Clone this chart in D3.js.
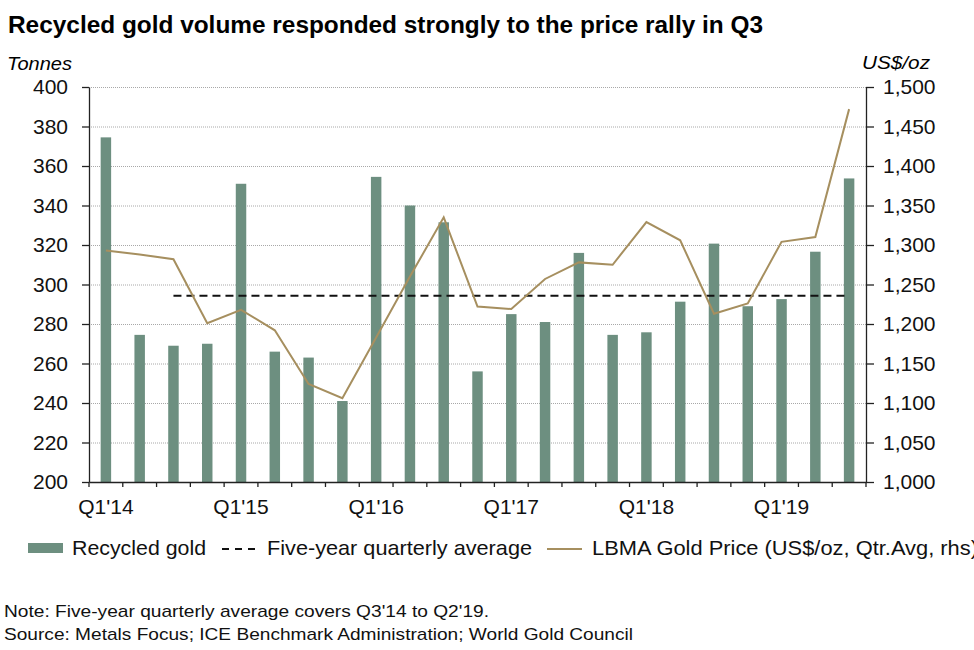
<!DOCTYPE html>
<html>
<head>
<meta charset="utf-8">
<script src="https://cdn.jsdelivr.net/npm/d3@7"></script>
<style>
  html, body { margin: 0; padding: 0; background: #fff; }
  svg { display: block; font-family: "Liberation Sans", Arial, sans-serif; }
</style>
</head>
<body>
<svg id="chart" width="974" height="650"></svg>
<script>
// ---- Data ----
const quarters = ["Q1'14","Q2'14","Q3'14","Q4'14","Q1'15","Q2'15","Q3'15","Q4'15",
                  "Q1'16","Q2'16","Q3'16","Q4'16","Q1'17","Q2'17","Q3'17","Q4'17",
                  "Q1'18","Q2'18","Q3'18","Q4'18","Q1'19","Q2'19","Q3'19"];
const recycledGold = [374.5, 274.5, 269, 270, 351, 266, 263, 241,
                      354.5, 340, 331.5, 256, 285, 281, 316, 274.5,
                      275.8, 291.3, 320.7, 289, 292.6, 316.6, 353.7];
const goldPrice = [1293, 1288, 1282, 1201, 1218, 1192, 1124, 1106,
                   1183, 1260, 1335, 1222, 1219, 1257, 1278, 1275,
                   1329, 1306, 1213, 1226, 1304, 1310, 1472];
const fiveYearAvg = 294.3;
const avgStart = "Q3'14", avgEnd = "Q3'19";
const leftTicks = [200, 220, 240, 260, 280, 300, 320, 340, 360, 380, 400];
const rightTicks = [1000, 1050, 1100, 1150, 1200, 1250, 1300, 1350, 1400, 1450, 1500];
const xLabelQuarters = ["Q1'14","Q1'15","Q1'16","Q1'17","Q1'18","Q1'19"];

const barColor = "#6d8f80";
const lineColor = "#a68f5f";

// ---- Layout ----
const svg = d3.select("#chart");
const plotL = 89, plotR = 866, plotT = 87, plotB = 482;

const x = d3.scaleBand().domain(quarters).range([plotL, plotR]).padding(0);
const yL = d3.scaleLinear().domain([200, 400]).range([plotB, plotT]);
const yR = d3.scaleLinear().domain([1000, 1500]).range([plotB, plotT]);
const bw = x.bandwidth();
const barW = bw * 0.31;
const cx = q => x(q) + bw / 2;

// Title
svg.append("text").attr("x", 8).attr("y", 33)
  .attr("font-size", 23).attr("font-weight", "bold").attr("fill", "#000")
  .attr("textLength", 755).attr("lengthAdjust", "spacingAndGlyphs")
  .text("Recycled gold volume responded strongly to the price rally in Q3");

// Axis titles
svg.append("text").attr("x", 7).attr("y", 70).attr("font-size", 19).attr("font-style", "italic")
  .attr("textLength", 65).attr("lengthAdjust", "spacingAndGlyphs").text("Tonnes");
svg.append("text").attr("x", 862).attr("y", 69).attr("font-size", 19).attr("font-style", "italic")
  .attr("textLength", 68).attr("lengthAdjust", "spacingAndGlyphs").text("US$/oz");

// Gridlines
svg.append("g").selectAll("line").data(leftTicks.filter(d => d > 200)).join("line")
  .attr("x1", plotL).attr("x2", plotR)
  .attr("y1", d => yL(d) + 0.5).attr("y2", d => yL(d) + 0.5)
  .attr("stroke", "#a8a8a8").attr("stroke-width", 1).attr("stroke-dasharray", "1,1");

// Bars
svg.append("g").selectAll("rect").data(quarters).join("rect")
  .attr("x", q => cx(q) - barW / 2)
  .attr("y", (q, i) => yL(recycledGold[i]))
  .attr("width", barW)
  .attr("height", (q, i) => yL(200) - yL(recycledGold[i]))
  .attr("fill", barColor);

// Five-year average dashed line
svg.append("line")
  .attr("x1", cx(avgStart)).attr("x2", cx(avgEnd))
  .attr("y1", yL(fiveYearAvg)).attr("y2", yL(fiveYearAvg))
  .attr("stroke", "#111").attr("stroke-width", 2).attr("stroke-dasharray", "8,5");

// Gold price line
const line = d3.line().x((d, i) => cx(quarters[i])).y(d => yR(d));
svg.append("path").datum(goldPrice).attr("d", line)
  .attr("fill", "none").attr("stroke", lineColor).attr("stroke-width", 2);

// Left axis
const axL = svg.append("g").attr("transform", `translate(${plotL},0)`)
  .call(d3.axisLeft(yL).tickValues(leftTicks).tickSize(7).tickPadding(14).tickSizeOuter(0));
// Right axis
const axR = svg.append("g").attr("transform", `translate(${plotR},0)`)
  .call(d3.axisRight(yR).tickValues(rightTicks).tickSize(8).tickPadding(9).tickSizeOuter(0)
        .tickFormat(d3.format(",")));
[axL, axR].forEach(a => {
  a.select(".domain").attr("stroke", "#222").attr("stroke-width", 1.3);
  a.selectAll(".tick line").attr("stroke", "#222").attr("stroke-width", 1.3);
  a.selectAll(".tick text").attr("font-size", 21).attr("fill", "#111")
    .attr("font-family", "Liberation Sans, Arial, sans-serif");
});

// Bottom axis
const axB = svg.append("g").attr("transform", `translate(0,${plotB})`)
  .call(d3.axisBottom(x).tickValues([]).tickSizeOuter(0));
axB.select(".domain").attr("stroke", "#222").attr("stroke-width", 1.3);
const bTicks = quarters.map(q => x(q)).concat([plotR]);
axB.selectAll(".qtick").data(bTicks).join("line").attr("class", "qtick")
  .attr("x1", d => d).attr("x2", d => d).attr("y1", 0).attr("y2", 5)
  .attr("stroke", "#222").attr("stroke-width", 1.3);
axB.selectAll(".qlab").data(xLabelQuarters).join("text").attr("class", "qlab")
  .attr("x", q => cx(q)).attr("y", 32).attr("text-anchor", "middle")
  .attr("font-size", 21).attr("fill", "#111").text(q => q);

// Legend
const lg = svg.append("g");
lg.append("rect").attr("x", 28).attr("y", 543).attr("width", 35).attr("height", 10).attr("fill", barColor);
lg.append("text").attr("x", 72).attr("y", 555).attr("font-size", 21).attr("fill", "#111")
  .attr("textLength", 134).attr("lengthAdjust", "spacingAndGlyphs").text("Recycled gold");
lg.append("line").attr("x1", 222).attr("x2", 257).attr("y1", 549).attr("y2", 549)
  .attr("stroke", "#111").attr("stroke-width", 2).attr("stroke-dasharray", "7,6");
lg.append("text").attr("x", 267).attr("y", 555).attr("font-size", 21).attr("fill", "#111")
  .attr("textLength", 265).attr("lengthAdjust", "spacingAndGlyphs").text("Five-year quarterly average");
lg.append("line").attr("x1", 547).attr("x2", 582).attr("y1", 549).attr("y2", 549)
  .attr("stroke", lineColor).attr("stroke-width", 2);
lg.append("text").attr("x", 592).attr("y", 555).attr("font-size", 21).attr("fill", "#111")
  .attr("textLength", 386).attr("lengthAdjust", "spacingAndGlyphs")
  .text("LBMA Gold Price (US$/oz, Qtr.Avg, rhs)");

// Notes
svg.append("text").attr("x", 4).attr("y", 617).attr("font-size", 17).attr("fill", "#111")
  .attr("textLength", 485).attr("lengthAdjust", "spacingAndGlyphs")
  .text("Note: Five-year quarterly average covers Q3'14 to Q2'19.");
svg.append("text").attr("x", 4).attr("y", 640).attr("font-size", 17).attr("fill", "#111")
  .attr("textLength", 629).attr("lengthAdjust", "spacingAndGlyphs")
  .text("Source: Metals Focus; ICE Benchmark Administration; World Gold Council");
</script>
</body>
</html>
